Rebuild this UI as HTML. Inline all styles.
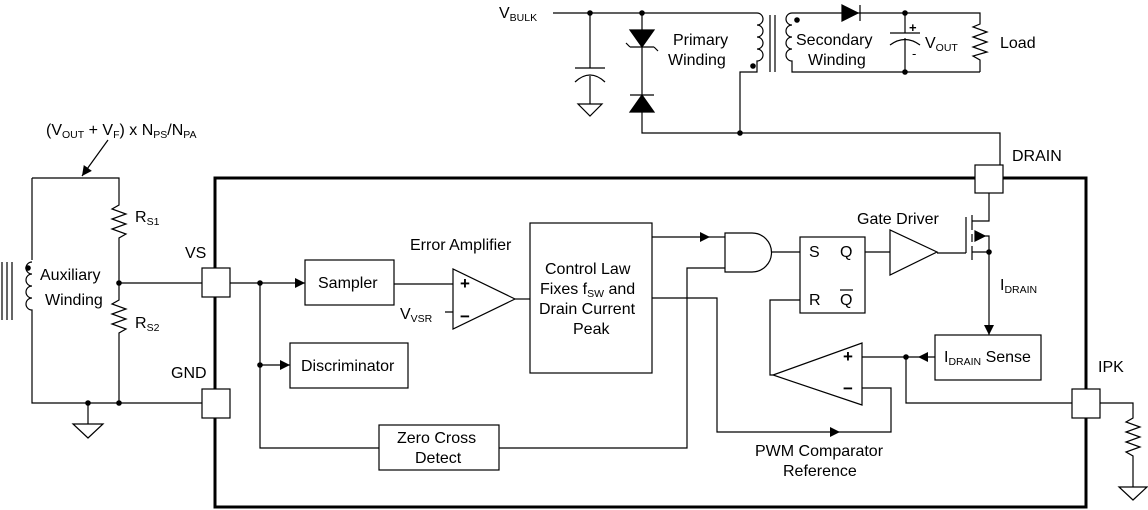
<!DOCTYPE html>
<html><head><meta charset="utf-8"><style>
html,body{margin:0;padding:0;background:#fff;}
svg{display:block;}
text{font-family:"Liberation Sans",Arial,sans-serif;font-size:16px;fill:#000;}
.s{font-size:10.5px;}
.pm{font-size:17px;font-weight:bold;}
</style></head><body>
<svg width="1148" height="510" viewBox="0 0 1148 510" xmlns="http://www.w3.org/2000/svg">
<defs>
<marker id="a" viewBox="0 0 10 10" refX="10" refY="5" markerWidth="10" markerHeight="10" markerUnits="userSpaceOnUse" orient="auto"><path d="M0,0L10,5L0,10z" fill="#000"/></marker>
</defs>
<g fill="none" stroke="#000" stroke-width="1.2">
<rect x="215" y="178" width="871" height="329" stroke-width="3"/>
<path d="M553,13H757"/>
<path d="M590,13V68M575,68H605M575,82Q590,68 605,82M590,76V104M578,104H602L590,116Z"/>
<path d="M642,13V133H1000V165"/>
<path d="M630,30H654L642,47Z" fill="#000"/>
<path d="M630,47H654M630,47L626,43M654,47L658,51"/>
<path d="M630,112H654L642,95Z" fill="#000"/>
<path d="M630,95H654"/>
<path d="M757,13a6,6 0 0 1 0,12a6,6 0 0 1 0,12a6,6 0 0 1 0,12a6,6 0 0 1 0,12V72H740V133"/>
<path d="M770,15V72M775,15V72"/>
<path d="M792,13a6,6 0 0 0 0,12a6,6 0 0 0 0,12a6,6 0 0 0 0,12a6,6 0 0 0 0,12V72H980"/>
<path d="M792,13H980V24L973,27L987,32L973,37L987,42L973,47L987,52L973,56L980,60V72"/>
<path d="M842,5L858,13L842,21Z" fill="#000"/>
<path d="M860,5V21"/>
<path d="M905,13V33M890,33H920M890,45Q905,34 920,45M905,38V72"/>
<path d="M32,178H119V205L112,209L126,214L112,219L126,224L112,229L126,234L119,238V300L112,304L126,309L112,314L126,319L112,324L126,329L119,333V403H32V322"/>
<path d="M32,178V260"/>
<path d="M32,262a6,6 0 0 0 0,12a6,6 0 0 0 0,12a6,6 0 0 0 0,12a6,6 0 0 0 0,12V322"/>
<path d="M2,262V320M7,262V320M12,262V320"/>
<path d="M119,283H202M119,403H202"/>
<path d="M88,403V424M73,424H103L88,438Z"/>
<path d="M108,140L82,176" marker-end="url(#a)"/>
<rect x="202" y="268" width="28" height="29" fill="#fff"/>
<rect x="202" y="389" width="28" height="29" fill="#fff"/>
<rect x="975" y="165" width="28" height="28" fill="#fff"/>
<rect x="1072" y="389" width="28" height="29" fill="#fff"/>
<path d="M230,283H305" marker-end="url(#a)"/>
<path d="M260,283V448H379"/>
<path d="M260,365H290" marker-end="url(#a)"/>
<rect x="305" y="260" width="89" height="45"/>
<rect x="290" y="343" width="118" height="45"/>
<rect x="379" y="425" width="120" height="45"/>
<path d="M394,284H453M445,312H453"/>
<path d="M453,269V329L515,299Z"/>
<path d="M515,299H530"/>
<rect x="530" y="223" width="122" height="150"/>
<path d="M652,237H710" marker-end="url(#a)"/>
<path d="M710,237H725"/>
<path d="M499,448H687V268H725"/>
<path d="M725,233H752A19.5,19.5 0 0 1 752,272H725Z"/>
<path d="M772,252H800"/>
<rect x="800" y="237" width="65" height="76"/>
<path d="M865,252H890"/>
<path d="M890,230V275L937,252Z"/>
<path d="M937,253H966M966,217V253M972,215V230M972,234V242M972,246V260"/>
<path d="M972,221H989V193M972,252H989V236H984"/>
<path d="M985,236L975,231V241Z" fill="#000"/>
<path d="M989,252V335" marker-end="url(#a)"/>
<rect x="935" y="335" width="106" height="45"/>
<path d="M935,357H918" marker-end="url(#a)"/>
<path d="M918,357H862"/>
<path d="M906,357V403H1072"/>
<path d="M862,343V405L773,375Z"/>
<path d="M773,375H770V300H800"/>
<path d="M652,298H717V432H840" marker-end="url(#a)"/>
<path d="M840,432H891V388H862"/>
<path d="M1100,403H1133V418L1126,422L1140,427L1126,432L1140,437L1126,442L1140,447L1126,452L1133,456V487M1119,487H1147L1133,500Z"/>
</g>
<g fill="#000">
<circle cx="590" cy="13" r="2.8"/><circle cx="642" cy="13" r="2.8"/>
<circle cx="740" cy="133" r="2.8"/><circle cx="905" cy="13" r="2.8"/><circle cx="905" cy="72" r="2.8"/>
<circle cx="753" cy="66" r="2.8"/><circle cx="797" cy="20" r="2.8"/><circle cx="28" cy="268" r="2.8"/>
<circle cx="119" cy="283" r="2.8"/><circle cx="119" cy="403" r="2.8"/><circle cx="88" cy="403" r="2.8"/>
<circle cx="260" cy="283" r="2.8"/><circle cx="260" cy="365" r="2.8"/>
<circle cx="989" cy="252" r="2.8"/><circle cx="906" cy="357" r="2.8"/>
</g>
<text x="499" y="18">V<tspan class="s" dy="3">BULK</tspan></text>
<text x="673" y="45">Primary</text><text x="668" y="65">Winding</text>
<text x="796" y="45">Secondary</text><text x="808" y="65">Winding</text>
<text x="909" y="32" style="font-size:13px;font-weight:bold">+</text><text x="912" y="58" style="font-size:13px">-</text>
<text x="925" y="48">V<tspan class="s" dy="3">OUT</tspan></text>
<text x="1000" y="48">Load</text>
<text x="46" y="135">(V<tspan class="s" dy="3">OUT</tspan><tspan dy="-3"> + V</tspan><tspan class="s" dy="3">F</tspan><tspan dy="-3">) x N</tspan><tspan class="s" dy="3">PS</tspan><tspan dy="-3">/N</tspan><tspan class="s" dy="3">PA</tspan></text>
<text x="135" y="222">R<tspan class="s" dy="3">S1</tspan></text>
<text x="135" y="328">R<tspan class="s" dy="3">S2</tspan></text>
<text x="40" y="280">Auxiliary</text><text x="45" y="305">Winding</text>
<text x="185" y="258">VS</text><text x="171" y="378">GND</text>
<text x="1012" y="161">DRAIN</text><text x="1098" y="372">IPK</text>
<text x="318" y="288">Sampler</text>
<text x="301" y="371">Discriminator</text>
<text x="397" y="443">Zero Cross</text><text x="415" y="463">Detect</text>
<text x="410" y="250">Error Amplifier</text>
<text x="460" y="289" class="pm">+</text><text x="460" y="322" class="pm">−</text>
<text x="400" y="319">V<tspan class="s" dy="3">VSR</tspan></text>
<text x="545" y="274">Control Law</text>
<text x="540" y="294">Fixes f<tspan class="s" dy="3">SW</tspan><tspan dy="-3"> and</tspan></text>
<text x="539" y="314">Drain Current</text>
<text x="573" y="334">Peak</text>
<text x="809" y="257">S</text><text x="840" y="257">Q</text>
<text x="809" y="305">R</text><text x="840" y="305">Q</text>
<path d="M840,290H853" stroke="#000" stroke-width="1.2"/>
<text x="857" y="224">Gate Driver</text>
<text x="1000" y="290">I<tspan class="s" dy="3">DRAIN</tspan></text>
<text x="944" y="362">I<tspan class="s" dy="3">DRAIN</tspan><tspan dy="-3"> Sense</tspan></text>
<text x="843" y="362" class="pm">+</text><text x="843" y="394" class="pm">−</text>
<text x="755" y="456">PWM Comparator</text><text x="783" y="476">Reference</text>
</svg>
</body></html>
